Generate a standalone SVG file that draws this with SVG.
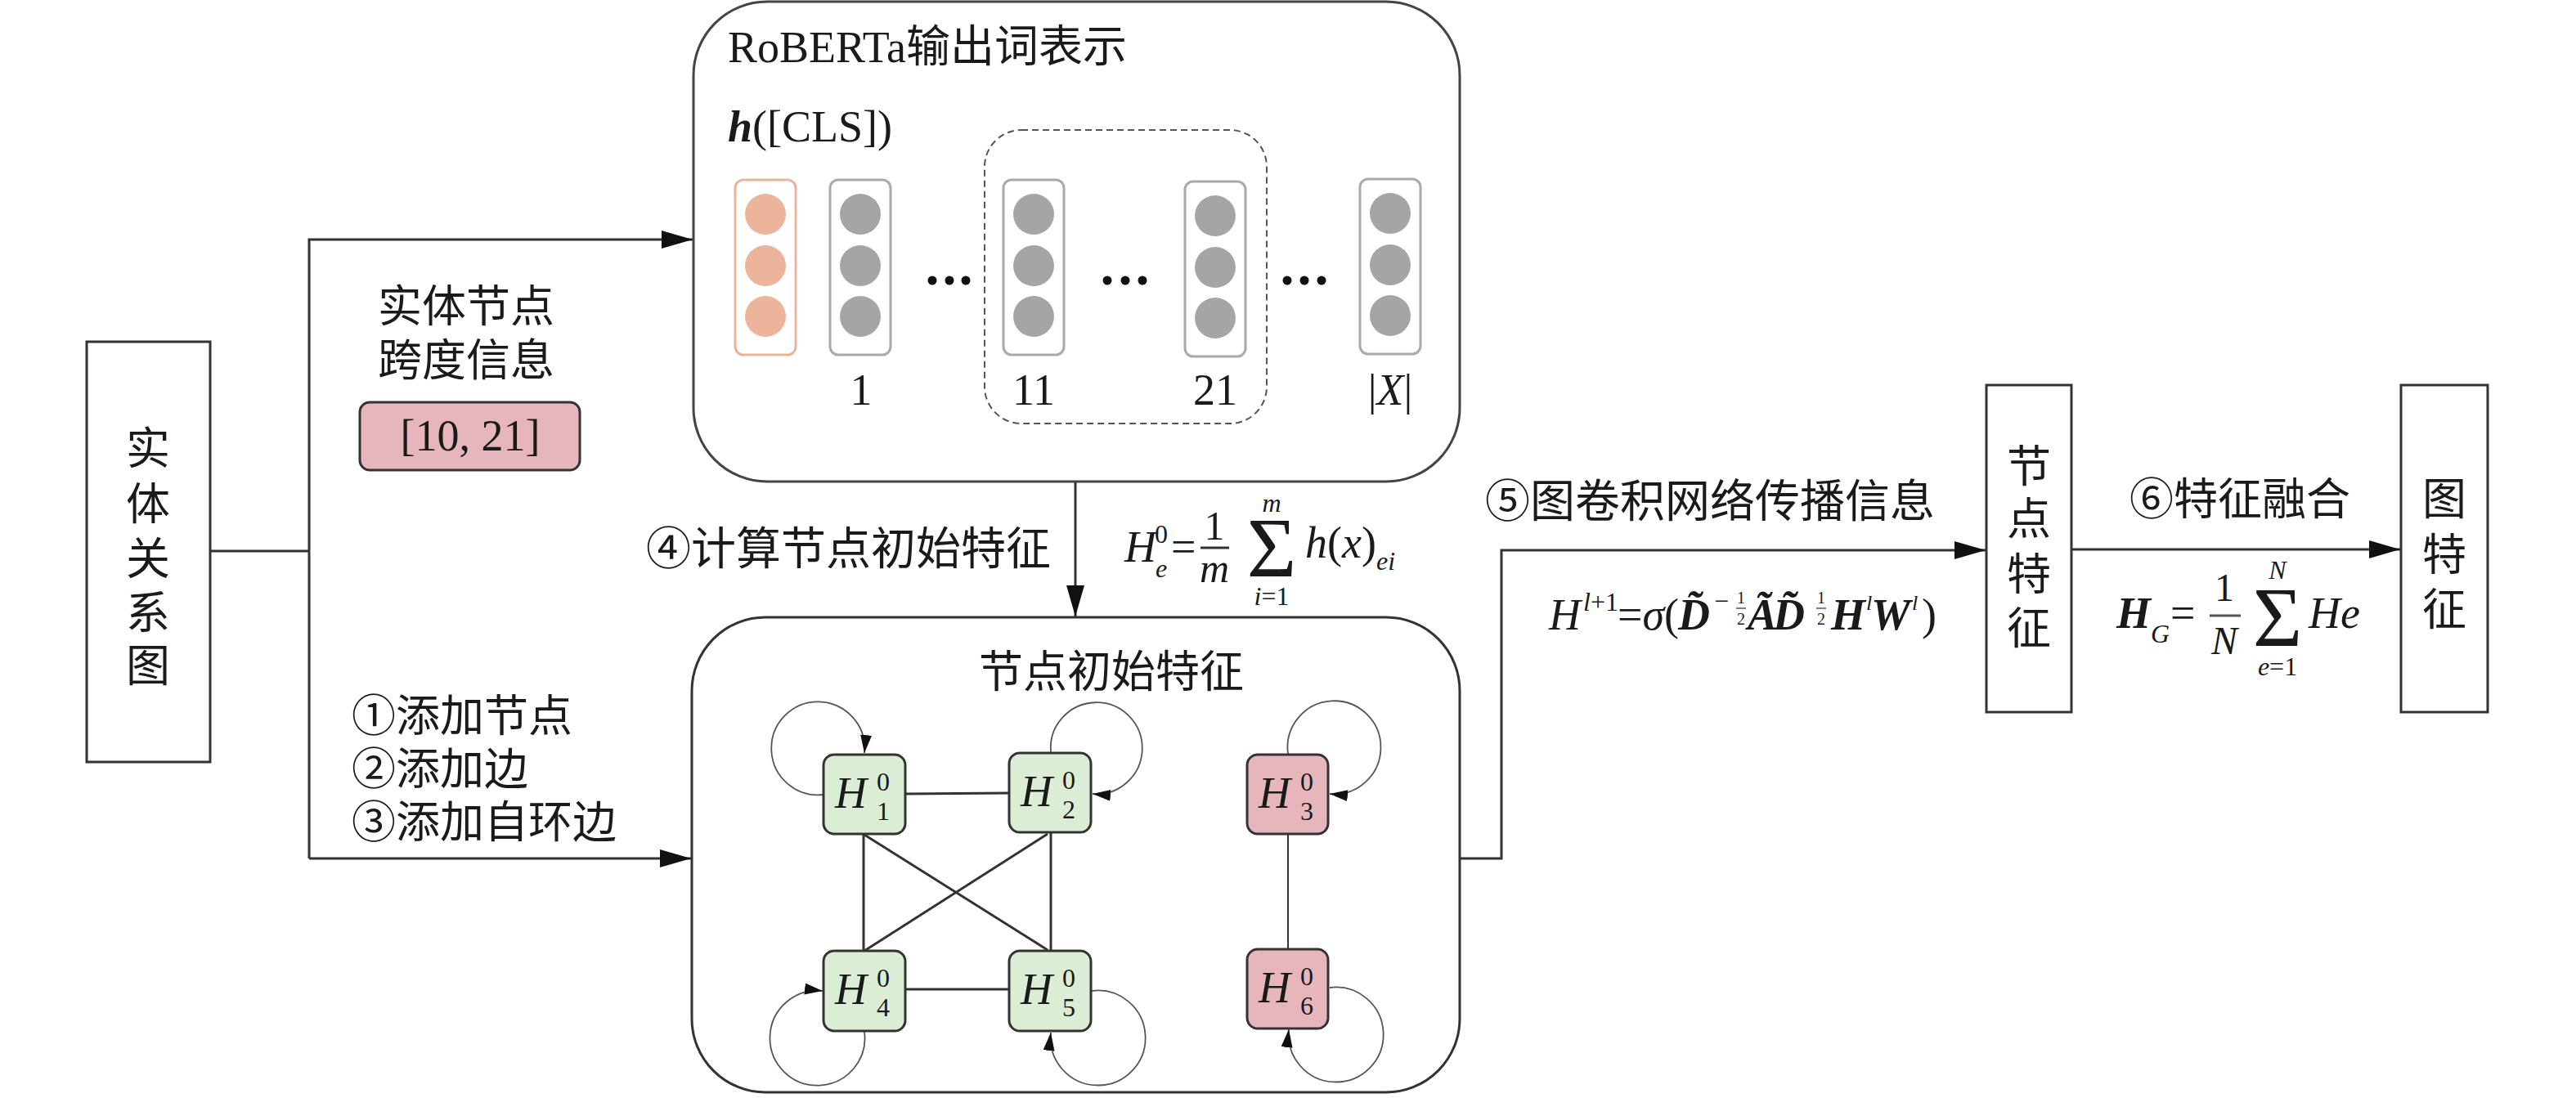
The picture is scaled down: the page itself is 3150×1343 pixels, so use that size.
<svg xmlns="http://www.w3.org/2000/svg" width="3150" height="1343" viewBox="0 0 3150 1343">
<defs>
<style>
text{font-family:'Liberation Serif','Noto Sans CJK SC',serif;fill:#1a1a1a}
.t{font-size:54px}
.c{text-anchor:middle}
.it{font-style:italic}
.bi{font-style:italic;font-weight:bold}
.sm{font-size:32px}
.sig{font-size:104px;text-anchor:middle}
.box{fill:#fff;stroke:#333;stroke-width:3}
.big{fill:none;stroke:#444;stroke-width:3}
.vec{fill:#fff;stroke:#aaa;stroke-width:3}
.vecO{fill:#fff;stroke:#eab39c;stroke-width:3}
.dotG{fill:#a6a4a7}
.dotO{fill:#ebb49b}
.green{fill:#dcedd5;stroke:#333;stroke-width:3}
.pink{fill:#e7b6bd;stroke:#333;stroke-width:3}
.line{fill:none;stroke:#333;stroke-width:3}
.edge{fill:none;stroke:#333;stroke-width:3}
.loop{fill:none;stroke:#555;stroke-width:1.8}
</style>
<marker id="arr" markerUnits="userSpaceOnUse" markerWidth="40" markerHeight="24" refX="38" refY="11" orient="auto"><path d="M0 0 L38 11 L0 22 Z" fill="#111"/></marker>
<marker id="sarr" markerUnits="userSpaceOnUse" markerWidth="24" markerHeight="16" refX="22" refY="7" orient="auto"><path d="M0 0 L22 7 L0 14 Z" fill="#111"/></marker>
</defs>
<rect width="3150" height="1343" fill="#fff"/>

<g id="connectors">
<path class="line" d="M257 674 H378"/>
<path class="line" d="M378 1050 V293 H847" marker-end="url(#arr)"/>
<path class="line" d="M378 1050 H845" marker-end="url(#arr)"/>
<path class="line" d="M1315 589 V754" marker-end="url(#arr)"/>
<path class="line" d="M1785 1050 H1836 V673 H2428" marker-end="url(#arr)"/>
<path class="line" d="M2533 672 H2935" marker-end="url(#arr)"/>
</g>

<g id="node-entity-graph">
<rect class="box" x="106" y="418" width="151" height="514"/>
<text class="t c" x="181" y="568">实</text>
<text class="t c" x="181" y="636">体</text>
<text class="t c" x="181" y="703">关</text>
<text class="t c" x="181" y="769">系</text>
<text class="t c" x="181" y="834">图</text>
</g>

<g id="node-span-info">
<text class="t c" x="570" y="394">实体节点</text>
<text class="t c" x="570" y="460">跨度信息</text>
<rect class="pink" x="440" y="492" width="269" height="83" rx="12"/>
<text class="t c" x="575" y="551">[10, 21]</text>
</g>

<g id="label-steps123">
<text class="t" x="430" y="895">①添加节点</text>
<text class="t" x="430" y="960">②添加边</text>
<text class="t" x="430" y="1025">③添加自环边</text>
</g>

<g id="node-roberta">
<rect class="big" x="848" y="2" width="937" height="587" rx="90"/>
<text class="t" x="890" y="76">RoBERTa输出词表示</text>
<text class="t" x="890" y="173"><tspan class="bi">h</tspan>([CLS])</text>
<rect x="1204" y="159" width="345" height="359" rx="45" fill="none" stroke="#555" stroke-width="2" stroke-dasharray="8 5"/>
<rect class="vecO" x="899" y="220" width="74" height="214" rx="10"/>
<circle class="dotO" cx="936" cy="262" r="25"/><circle class="dotO" cx="936" cy="325" r="25"/><circle class="dotO" cx="936" cy="387" r="25"/>
<rect class="vec" x="1015" y="220" width="74" height="214" rx="10"/>
<circle class="dotG" cx="1052" cy="262" r="25"/><circle class="dotG" cx="1052" cy="325" r="25"/><circle class="dotG" cx="1052" cy="387" r="25"/>
<rect class="vec" x="1227" y="220" width="74" height="214" rx="10"/>
<circle class="dotG" cx="1264" cy="262" r="25"/><circle class="dotG" cx="1264" cy="325" r="25"/><circle class="dotG" cx="1264" cy="387" r="25"/>
<rect class="vec" x="1449" y="222" width="74" height="214" rx="10"/>
<circle class="dotG" cx="1486" cy="264" r="25"/><circle class="dotG" cx="1486" cy="327" r="25"/><circle class="dotG" cx="1486" cy="389" r="25"/>
<rect class="vec" x="1663" y="219" width="74" height="214" rx="10"/>
<circle class="dotG" cx="1700" cy="261" r="25"/><circle class="dotG" cx="1700" cy="324" r="25"/><circle class="dotG" cx="1700" cy="386" r="25"/>
<g fill="#111">
<circle cx="1140" cy="343" r="5.5"/><circle cx="1161" cy="343" r="5.5"/><circle cx="1181" cy="343" r="5.5"/>
<circle cx="1354" cy="343" r="5.5"/><circle cx="1376" cy="343" r="5.5"/><circle cx="1397" cy="343" r="5.5"/>
<circle cx="1574" cy="343" r="5.5"/><circle cx="1595" cy="343" r="5.5"/><circle cx="1616" cy="343" r="5.5"/>
</g>
<text class="t c" x="1053" y="495">1</text>
<text class="t c" x="1264" y="495">11</text>
<text class="t c" x="1486" y="495">21</text>
<text class="t c" x="1700" y="495">|<tspan class="it">X</tspan>|</text>
</g>

<g id="label-step4">
<text class="t" x="790" y="690" style="font-size:55px">④计算节点初始特征</text>
<text class="t it" x="1375" y="687">H</text>
<text class="sm" x="1412" y="664">0</text>
<text class="sm it" x="1413" y="706">e</text>
<text class="t" x="1432" y="687">=</text>
<text class="t c" x="1485" y="660" style="font-size:50px">1</text>
<line x1="1468" y1="670" x2="1503" y2="670" stroke="#333" stroke-width="3"/>
<text class="t c it" x="1485" y="712" style="font-size:50px">m</text>
<text class="sig" x="1555" y="705">Σ</text>
<text class="sm c it" x="1555" y="626">m</text>
<text class="sm c" x="1555" y="740"><tspan class="it">i</tspan>=1</text>
<text class="t" x="1596" y="682"><tspan class="it">h</tspan>(<tspan class="it">x</tspan>)</text>
<text class="sm it" x="1683" y="697">ei</text>
</g>

<g id="node-init-features">
<rect class="box" x="846" y="755" width="939" height="581" rx="90"/>
<text class="t c" x="1359" y="841">节点初始特征</text>
<g id="graph-edges">
<path class="edge" d="M1107 971 L1234 970"/>
<path class="edge" d="M1107 1210 L1234 1210"/>
<path class="edge" d="M1056 1020 V1163"/>
<path class="edge" d="M1285 1019 V1163"/>
<path class="edge" d="M1057 1021 L1281 1162"/>
<path class="edge" d="M1281 1020 L1057 1163"/>
<path class="edge" style="stroke-width:2" d="M1575 1020 V1161"/>
<path class="loop" d="M1007 972 A57 57 0 1 1 1057 921" marker-end="url(#sarr)"/>
<path class="loop" d="M1285 920 A56 56 0 1 1 1336 971" marker-end="url(#sarr)"/>
<path class="loop" d="M1575 922 A57 57 0 1 1 1626 971" marker-end="url(#sarr)"/>
<path class="loop" d="M1057 1262 A58 58 0 1 1 1006 1212" marker-end="url(#sarr)"/>
<path class="loop" d="M1335 1212 A58 58 0 1 1 1285 1263" marker-end="url(#sarr)"/>
<path class="loop" d="M1626 1208 A58 58 0 1 1 1576 1259" marker-end="url(#sarr)"/>
</g>
<g id="H1"><rect class="green" x="1007" y="923" width="100" height="97" rx="13"/>
<text class="t it" x="1021" y="988">H</text><text class="sm c" x="1080" y="967">0</text><text class="sm c" x="1080" y="1003">1</text></g>
<g id="H2"><rect class="green" x="1234" y="921" width="100" height="97" rx="13"/>
<text class="t it" x="1248" y="986">H</text><text class="sm c" x="1307" y="965">0</text><text class="sm c" x="1307" y="1001">2</text></g>
<g id="H3"><rect class="pink" x="1525" y="923" width="99" height="97" rx="13"/>
<text class="t it" x="1539" y="988">H</text><text class="sm c" x="1598" y="967">0</text><text class="sm c" x="1598" y="1003">3</text></g>
<g id="H4"><rect class="green" x="1007" y="1163" width="100" height="98" rx="13"/>
<text class="t it" x="1021" y="1228">H</text><text class="sm c" x="1080" y="1207">0</text><text class="sm c" x="1080" y="1243">4</text></g>
<g id="H5"><rect class="green" x="1234" y="1163" width="100" height="98" rx="13"/>
<text class="t it" x="1248" y="1228">H</text><text class="sm c" x="1307" y="1207">0</text><text class="sm c" x="1307" y="1243">5</text></g>
<g id="H6"><rect class="pink" x="1525" y="1161" width="99" height="97" rx="13"/>
<text class="t it" x="1539" y="1226">H</text><text class="sm c" x="1598" y="1205">0</text><text class="sm c" x="1598" y="1241">6</text></g>
</g>

<g id="label-step5">
<text class="t" x="1816" y="632" style="font-size:55px">⑤图卷积网络传播信息</text>
<text class="t it" x="1894" y="770">H</text>
<text class="sm" x="1936" y="747"><tspan class="it">l</tspan>+1</text>
<text class="t" x="1978" y="770">=<tspan class="it">σ</tspan>(</text>
<text class="t bi" x="2052" y="770">D&#x303;</text>
<text class="sm" x="2096" y="746">−</text>
<text x="2129" y="738" class="c" style="font-size:20px">1</text>
<line x1="2123" y1="744" x2="2135" y2="744" stroke="#555" stroke-width="1.5"/>
<text x="2129" y="764" class="c" style="font-size:20px">2</text>
<text class="t bi" x="2137" y="770">A&#x303;</text>
<text class="t bi" x="2168" y="770">D&#x303;</text>
<text x="2227" y="738" class="c" style="font-size:20px">1</text>
<line x1="2221" y1="744" x2="2233" y2="744" stroke="#555" stroke-width="1.5"/>
<text x="2227" y="764" class="c" style="font-size:20px">2</text>
<text class="t bi" x="2239" y="770">H</text>
<text class="it" x="2282" y="746" style="font-size:26px">l</text>
<text class="t bi" x="2288" y="770">W</text>
<text class="it" x="2338" y="746" style="font-size:26px">l</text>
<text class="t" x="2350" y="770">)</text>
</g>

<g id="node-node-features">
<rect class="box" x="2429" y="471" width="104" height="400"/>
<text class="t c" x="2481" y="590">节</text>
<text class="t c" x="2481" y="654">点</text>
<text class="t c" x="2481" y="722">特</text>
<text class="t c" x="2481" y="788">征</text>
</g>

<g id="label-step6">
<text class="t" x="2604" y="630">⑥特征融合</text>
<text class="t bi" x="2588" y="768">H</text>
<text class="sm it" x="2630" y="786">G</text>
<text class="t" x="2654" y="768">=</text>
<text class="c" x="2720" y="735" style="font-size:48px">1</text>
<line x1="2702" y1="753" x2="2740" y2="753" stroke="#555" stroke-width="3"/>
<text class="c it" x="2720" y="800" style="font-size:48px">N</text>
<text class="sig" x="2785" y="790">Σ</text>
<text class="sm c it" x="2785" y="708">N</text>
<text class="sm c" x="2785" y="826"><tspan class="it">e</tspan>=1</text>
<text class="t it" x="2823" y="768">He</text>
</g>

<g id="node-graph-features">
<rect class="box" x="2936" y="471" width="106" height="400"/>
<text class="t c" x="2989" y="630">图</text>
<text class="t c" x="2989" y="698">特</text>
<text class="t c" x="2989" y="765">征</text>
</g>
</svg>
